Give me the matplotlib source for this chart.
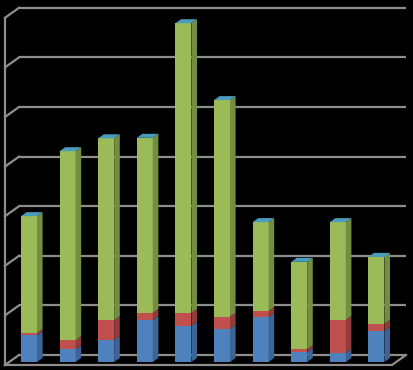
import matplotlib
matplotlib.use("Agg")
import matplotlib.pyplot as plt
from matplotlib.patches import Polygon, Rectangle

# ---- data (gridlines every 10) ----
categories = list(range(1, 11))
series_blue = [5.4, 2.6, 4.4, 8.5, 7.3, 6.7, 9.1, 2.0, 1.8, 6.3]
series_red = [0.4, 1.8, 4.0, 1.4, 2.6, 2.4, 1.2, 0.6, 6.7, 1.4]
series_green = [23.6, 38.1, 36.7, 35.3, 58.4, 43.7, 17.9, 17.6, 19.7, 13.5]
y_ticks = [0, 10, 20, 30, 40, 50, 60, 70]

W, H = 413, 370
fig = plt.figure(figsize=(W / 100, H / 100), dpi=100, facecolor="black")
ax = fig.add_axes([0, 0, 1, 1])
ax.set_facecolor("black")
ax.axis("off")

# pixel scale helpers (layout only)
px_x = 38.6          # pixels per category
px_y = 4.96          # pixels per value unit
x0_px = 24.8         # pixel x of first category (front plane)
base_px = 365        # pixel y of value 0 (front plane)
ax.set_xlim(-x0_px / px_x, (W - x0_px) / px_x)
ax.set_ylim(-(H - base_px) / px_y, base_px / px_y)

# oblique depth offset (depth 0 = front, depth 1 = back wall)
DX = 14 / px_x
DY = 10 / px_y


def P(x, v, d):
    return (x + DX * d, v + DY * d)


grid_col = "#8e8e8e"
lw = 1.6
n = len(categories)
xl, xr = -0.513, (n - 1) + 0.513
vmax = y_ticks[-1]

# back wall gridlines and left wall lines
for v in y_ticks:
    a, b = P(xl, v, 1), P(xr, v, 1)
    ax.plot([a[0], b[0]], [a[1], b[1]], color=grid_col, lw=lw, solid_capstyle="butt", zorder=1)
    c = P(xl, v, 0)
    ax.plot([c[0], a[0]], [c[1], a[1]], color=grid_col, lw=lw, zorder=1)
# left wall front vertical edge
a, b = P(xl, 0, 0), P(xl, vmax, 0)
ax.plot([a[0], b[0]], [a[1], b[1]], color=grid_col, lw=lw, zorder=1)

# bars
hw = 0.207
d0, d1 = 0.3, 0.7
styles = [
    ("#4F81BD", "#3B6597"),
    ("#C0504D", "#933C3A"),
    ("#9BBB59", "#748E40"),
]
cap_col = "#4A9DBD"
for i in range(n):
    bottom = 0.0
    for vals, (fc, sc) in zip([series_blue, series_red, series_green], styles):
        h = vals[i]
        top = bottom + h
        fx, fy = P(i - hw, bottom, d0)
        ax.add_patch(Rectangle((fx, fy), 2 * hw, h, facecolor=fc, edgecolor="none", zorder=3))
        side = [P(i + hw, bottom, d0), P(i + hw, bottom, d1), P(i + hw, top, d1), P(i + hw, top, d0)]
        ax.add_patch(Polygon(side, closed=True, facecolor=sc, edgecolor="none", zorder=3))
        bottom = top
    cap = [P(i - hw, bottom, d0), P(i + hw, bottom, d0), P(i + hw, bottom, d1), P(i - hw, bottom, d1)]
    ax.add_patch(Polygon(cap, closed=True, facecolor=cap_col, edgecolor="none", zorder=3))

# floor front and right edges
a, b = P(xl, 0, 0), P(xr, 0, 0)
c = P(xr, 0, 1)
ax.plot([a[0], b[0], c[0]], [a[1], b[1], c[1]], color=grid_col, lw=lw, zorder=4)

fig.savefig("out.png", dpi=100, facecolor="black")
